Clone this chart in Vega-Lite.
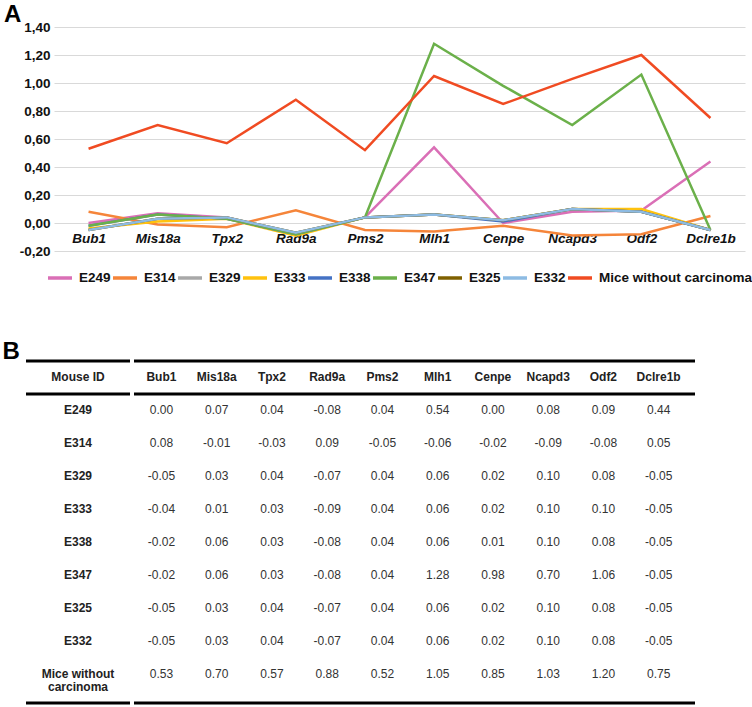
{
  "$schema": "https://vega.github.io/schema/vega-lite/v6.json",
  "padding": {"left": 2, "top": 3, "right": 0, "bottom": 0},
  "autosize": {"type": "pad"},
  "background": "white",
  "config": {
    "font": "Liberation Sans",
    "view": {"stroke": null},
    "legend": {"layout": {"bottom": {"anchor": "middle"}}},
    "locale": {"number": {"decimal": ".", "thousands": ",", "grouping": [3], "currency": ["$", ""], "minus": "-"}}
  },
  "datasets": {
    "expr": [
      {"mouse": "E249", "gene": "Bub1", "value": 0.00}, {"mouse": "E249", "gene": "Mis18a", "value": 0.07}, {"mouse": "E249", "gene": "Tpx2", "value": 0.04}, {"mouse": "E249", "gene": "Rad9a", "value": -0.08}, {"mouse": "E249", "gene": "Pms2", "value": 0.04}, {"mouse": "E249", "gene": "Mlh1", "value": 0.54}, {"mouse": "E249", "gene": "Cenpe", "value": 0.00}, {"mouse": "E249", "gene": "Ncapd3", "value": 0.08}, {"mouse": "E249", "gene": "Odf2", "value": 0.09}, {"mouse": "E249", "gene": "Dclre1b", "value": 0.44},
      {"mouse": "E314", "gene": "Bub1", "value": 0.08}, {"mouse": "E314", "gene": "Mis18a", "value": -0.01}, {"mouse": "E314", "gene": "Tpx2", "value": -0.03}, {"mouse": "E314", "gene": "Rad9a", "value": 0.09}, {"mouse": "E314", "gene": "Pms2", "value": -0.05}, {"mouse": "E314", "gene": "Mlh1", "value": -0.06}, {"mouse": "E314", "gene": "Cenpe", "value": -0.02}, {"mouse": "E314", "gene": "Ncapd3", "value": -0.09}, {"mouse": "E314", "gene": "Odf2", "value": -0.08}, {"mouse": "E314", "gene": "Dclre1b", "value": 0.05},
      {"mouse": "E329", "gene": "Bub1", "value": -0.05}, {"mouse": "E329", "gene": "Mis18a", "value": 0.03}, {"mouse": "E329", "gene": "Tpx2", "value": 0.04}, {"mouse": "E329", "gene": "Rad9a", "value": -0.07}, {"mouse": "E329", "gene": "Pms2", "value": 0.04}, {"mouse": "E329", "gene": "Mlh1", "value": 0.06}, {"mouse": "E329", "gene": "Cenpe", "value": 0.02}, {"mouse": "E329", "gene": "Ncapd3", "value": 0.10}, {"mouse": "E329", "gene": "Odf2", "value": 0.08}, {"mouse": "E329", "gene": "Dclre1b", "value": -0.05},
      {"mouse": "E333", "gene": "Bub1", "value": -0.04}, {"mouse": "E333", "gene": "Mis18a", "value": 0.01}, {"mouse": "E333", "gene": "Tpx2", "value": 0.03}, {"mouse": "E333", "gene": "Rad9a", "value": -0.09}, {"mouse": "E333", "gene": "Pms2", "value": 0.04}, {"mouse": "E333", "gene": "Mlh1", "value": 0.06}, {"mouse": "E333", "gene": "Cenpe", "value": 0.02}, {"mouse": "E333", "gene": "Ncapd3", "value": 0.10}, {"mouse": "E333", "gene": "Odf2", "value": 0.10}, {"mouse": "E333", "gene": "Dclre1b", "value": -0.05},
      {"mouse": "E338", "gene": "Bub1", "value": -0.02}, {"mouse": "E338", "gene": "Mis18a", "value": 0.06}, {"mouse": "E338", "gene": "Tpx2", "value": 0.03}, {"mouse": "E338", "gene": "Rad9a", "value": -0.08}, {"mouse": "E338", "gene": "Pms2", "value": 0.04}, {"mouse": "E338", "gene": "Mlh1", "value": 0.06}, {"mouse": "E338", "gene": "Cenpe", "value": 0.01}, {"mouse": "E338", "gene": "Ncapd3", "value": 0.10}, {"mouse": "E338", "gene": "Odf2", "value": 0.08}, {"mouse": "E338", "gene": "Dclre1b", "value": -0.05},
      {"mouse": "E347", "gene": "Bub1", "value": -0.02}, {"mouse": "E347", "gene": "Mis18a", "value": 0.06}, {"mouse": "E347", "gene": "Tpx2", "value": 0.03}, {"mouse": "E347", "gene": "Rad9a", "value": -0.08}, {"mouse": "E347", "gene": "Pms2", "value": 0.04}, {"mouse": "E347", "gene": "Mlh1", "value": 1.28}, {"mouse": "E347", "gene": "Cenpe", "value": 0.98}, {"mouse": "E347", "gene": "Ncapd3", "value": 0.70}, {"mouse": "E347", "gene": "Odf2", "value": 1.06}, {"mouse": "E347", "gene": "Dclre1b", "value": -0.05},
      {"mouse": "E325", "gene": "Bub1", "value": -0.05}, {"mouse": "E325", "gene": "Mis18a", "value": 0.03}, {"mouse": "E325", "gene": "Tpx2", "value": 0.04}, {"mouse": "E325", "gene": "Rad9a", "value": -0.07}, {"mouse": "E325", "gene": "Pms2", "value": 0.04}, {"mouse": "E325", "gene": "Mlh1", "value": 0.06}, {"mouse": "E325", "gene": "Cenpe", "value": 0.02}, {"mouse": "E325", "gene": "Ncapd3", "value": 0.10}, {"mouse": "E325", "gene": "Odf2", "value": 0.08}, {"mouse": "E325", "gene": "Dclre1b", "value": -0.05},
      {"mouse": "E332", "gene": "Bub1", "value": -0.05}, {"mouse": "E332", "gene": "Mis18a", "value": 0.03}, {"mouse": "E332", "gene": "Tpx2", "value": 0.04}, {"mouse": "E332", "gene": "Rad9a", "value": -0.07}, {"mouse": "E332", "gene": "Pms2", "value": 0.04}, {"mouse": "E332", "gene": "Mlh1", "value": 0.06}, {"mouse": "E332", "gene": "Cenpe", "value": 0.02}, {"mouse": "E332", "gene": "Ncapd3", "value": 0.10}, {"mouse": "E332", "gene": "Odf2", "value": 0.08}, {"mouse": "E332", "gene": "Dclre1b", "value": -0.05},
      {"mouse": "Mice without carcinoma", "gene": "Bub1", "value": 0.53}, {"mouse": "Mice without carcinoma", "gene": "Mis18a", "value": 0.70}, {"mouse": "Mice without carcinoma", "gene": "Tpx2", "value": 0.57}, {"mouse": "Mice without carcinoma", "gene": "Rad9a", "value": 0.88}, {"mouse": "Mice without carcinoma", "gene": "Pms2", "value": 0.52}, {"mouse": "Mice without carcinoma", "gene": "Mlh1", "value": 1.05}, {"mouse": "Mice without carcinoma", "gene": "Cenpe", "value": 0.85}, {"mouse": "Mice without carcinoma", "gene": "Ncapd3", "value": 1.03}, {"mouse": "Mice without carcinoma", "gene": "Odf2", "value": 1.20}, {"mouse": "Mice without carcinoma", "gene": "Dclre1b", "value": 0.75}
    ],
    "ids": [
      {"mouse": "Mouse ID", "label": "Mouse ID"},
      {"mouse": "E249", "label": "E249"},
      {"mouse": "E314", "label": "E314"},
      {"mouse": "E329", "label": "E329"},
      {"mouse": "E333", "label": "E333"},
      {"mouse": "E338", "label": "E338"},
      {"mouse": "E347", "label": "E347"},
      {"mouse": "E325", "label": "E325"},
      {"mouse": "E332", "label": "E332"},
      {"mouse": "Mice without carcinoma", "label": "Mice without\ncarcinoma"}
    ]
  },
  "spacing": 55,
  "columns": 1,
  "align": "none",
  "resolve": {"legend": {"color": "independent"}, "scale": {"color": "independent"}},
  "concat": [
    {
      "spacing": -8,
      "resolve": {"legend": {"color": "independent"}, "scale": {"color": "independent"}},
      "hconcat": [
        {
          "width": 1,
          "height": 224,
          "title": {"text": "A", "anchor": "start", "fontSize": 24, "fontWeight": "bold", "color": "#000", "dx": -22, "offset": -19, "baseline": "alphabetic"},
          "data": {"values": [{}]},
          "mark": {"type": "text", "text": ""}
        },
        {
          "width": 691,
          "height": 224,
          "data": {"name": "expr"},
          "mark": {"type": "line", "strokeWidth": 2.5},
          "encoding": {
            "x": {
              "field": "gene", "type": "nominal",
              "sort": ["Bub1", "Mis18a", "Tpx2", "Rad9a", "Pms2", "Mlh1", "Cenpe", "Ncapd3", "Odf2", "Dclre1b"],
              "scale": {"type": "point", "padding": 0.5},
              "axis": {"title": null, "orient": "bottom", "offset": -29, "domain": false, "ticks": false, "grid": false, "labelAngle": 0, "labelFontSize": 13.5, "labelFontWeight": "bold", "labelFontStyle": "italic", "labelColor": "#111", "labelPadding": 9}
            },
            "y": {
              "field": "value", "type": "quantitative",
              "scale": {"domain": [-0.2, 1.4], "nice": false, "zero": false},
              "axis": {"title": null, "values": [-0.2, 0, 0.2, 0.4, 0.6, 0.8, 1.0, 1.2, 1.4], "labelExpr": "replace(replace(format(datum.value, '.2f'), '.', ','), '\u2212', '-')", "domain": false, "ticks": false, "labelPadding": 4, "labelFontSize": 13.5, "labelFontWeight": "bold", "labelColor": "#111", "gridColor": "#d9d9d9", "gridWidth": 1}
            },
            "color": {
              "field": "mouse", "type": "nominal",
              "scale": {
                "domain": ["E249", "E314", "E329", "E333", "E338", "E347", "E325", "E332", "Mice without carcinoma"],
                "range": ["#DA6FB6", "#F5853A", "#A8A8A8", "#FFC20E", "#4472C4", "#6BB04A", "#7F6000", "#8DBBE3", "#F04B22"]
              },
              "legend": {"title": null, "orient": "bottom", "direction": "horizontal", "symbolType": "stroke", "symbolSize": 576, "symbolStrokeWidth": 3.5, "labelFontSize": 13.5, "labelFontWeight": "bold", "labelColor": "#111", "labelLimit": 0, "labelOffset": 5, "columnPadding": -8, "offset": 13}
            }
          }
        }
      ]
    },
    {
      "title": {"text": "B", "anchor": "start", "fontSize": 24, "fontWeight": "bold", "color": "#000", "dx": -22, "offset": -23.5, "baseline": "alphabetic"},
      "spacing": 0,
      "hconcat": [
        {
          "width": 104,
          "height": 330,
          "layer": [
            {
              "data": {"name": "ids"},
              "mark": {"type": "text", "fontSize": 12, "fontWeight": "bold", "color": "#222", "lineBreak": "\n", "lineHeight": 13, "baseline": "alphabetic", "dy": 3},
              "encoding": {
                "y": {"field": "mouse", "type": "nominal", "scale": {"type": "band", "domain": ["Mouse ID", "E249", "E314", "E329", "E333", "E338", "E347", "E325", "E332", "Mice without carcinoma"], "paddingInner": 0, "paddingOuter": 0}, "axis": null},
                "text": {"field": "label"}
              }
            },
            {"data": {"values": [{}]}, "mark": {"type": "rule", "strokeWidth": 3, "color": "#000"}, "encoding": {"y": {"datum": "Mouse ID", "type": "nominal", "bandPosition": 0}}},
            {"data": {"values": [{}]}, "mark": {"type": "rule", "strokeWidth": 3, "color": "#000"}, "encoding": {"y": {"datum": "Mouse ID", "type": "nominal", "bandPosition": 1}}},
            {"data": {"values": [{}]}, "mark": {"type": "rule", "strokeWidth": 3, "color": "#000", "yOffset": 12}, "encoding": {"y": {"datum": "Mice without carcinoma", "type": "nominal", "bandPosition": 1}}}
          ]
        },
        {
          "width": 561,
          "height": 330,
          "layer": [
            {
              "data": {"name": "expr"},
              "transform": [{"filter": "datum.mouse == 'E249'"}],
              "mark": {"type": "text", "fontSize": 12, "fontWeight": "bold", "color": "#222", "baseline": "alphabetic", "dy": 3},
              "encoding": {
                "x": {"field": "gene", "type": "nominal", "scale": {"type": "point", "domain": ["Bub1", "Mis18a", "Tpx2", "Rad9a", "Pms2", "Mlh1", "Cenpe", "Ncapd3", "Odf2", "Dclre1b"], "padding": 0.5775, "align": 0.43}, "axis": null},
                "y": {"datum": "Mouse ID", "type": "nominal", "scale": {"type": "band", "domain": ["Mouse ID", "E249", "E314", "E329", "E333", "E338", "E347", "E325", "E332", "Mice without carcinoma"], "paddingInner": 0, "paddingOuter": 0}, "axis": null},
                "text": {"field": "gene"}
              }
            },
            {
              "data": {"name": "expr"},
              "mark": {"type": "text", "fontSize": 12, "color": "#333", "baseline": "alphabetic", "dy": 3},
              "encoding": {
                "x": {"field": "gene", "type": "nominal"},
                "y": {"field": "mouse", "type": "nominal"},
                "text": {"field": "value", "type": "quantitative", "format": ".2f"}
              }
            },
            {"data": {"values": [{}]}, "mark": {"type": "rule", "strokeWidth": 3, "color": "#000"}, "encoding": {"y": {"datum": "Mouse ID", "type": "nominal", "bandPosition": 0}}},
            {"data": {"values": [{}]}, "mark": {"type": "rule", "strokeWidth": 3, "color": "#000"}, "encoding": {"y": {"datum": "Mouse ID", "type": "nominal", "bandPosition": 1}}},
            {"data": {"values": [{}]}, "mark": {"type": "rule", "strokeWidth": 3, "color": "#000", "yOffset": 12}, "encoding": {"y": {"datum": "Mice without carcinoma", "type": "nominal", "bandPosition": 1}}}
          ]
        }
      ]
    }
  ]
}
